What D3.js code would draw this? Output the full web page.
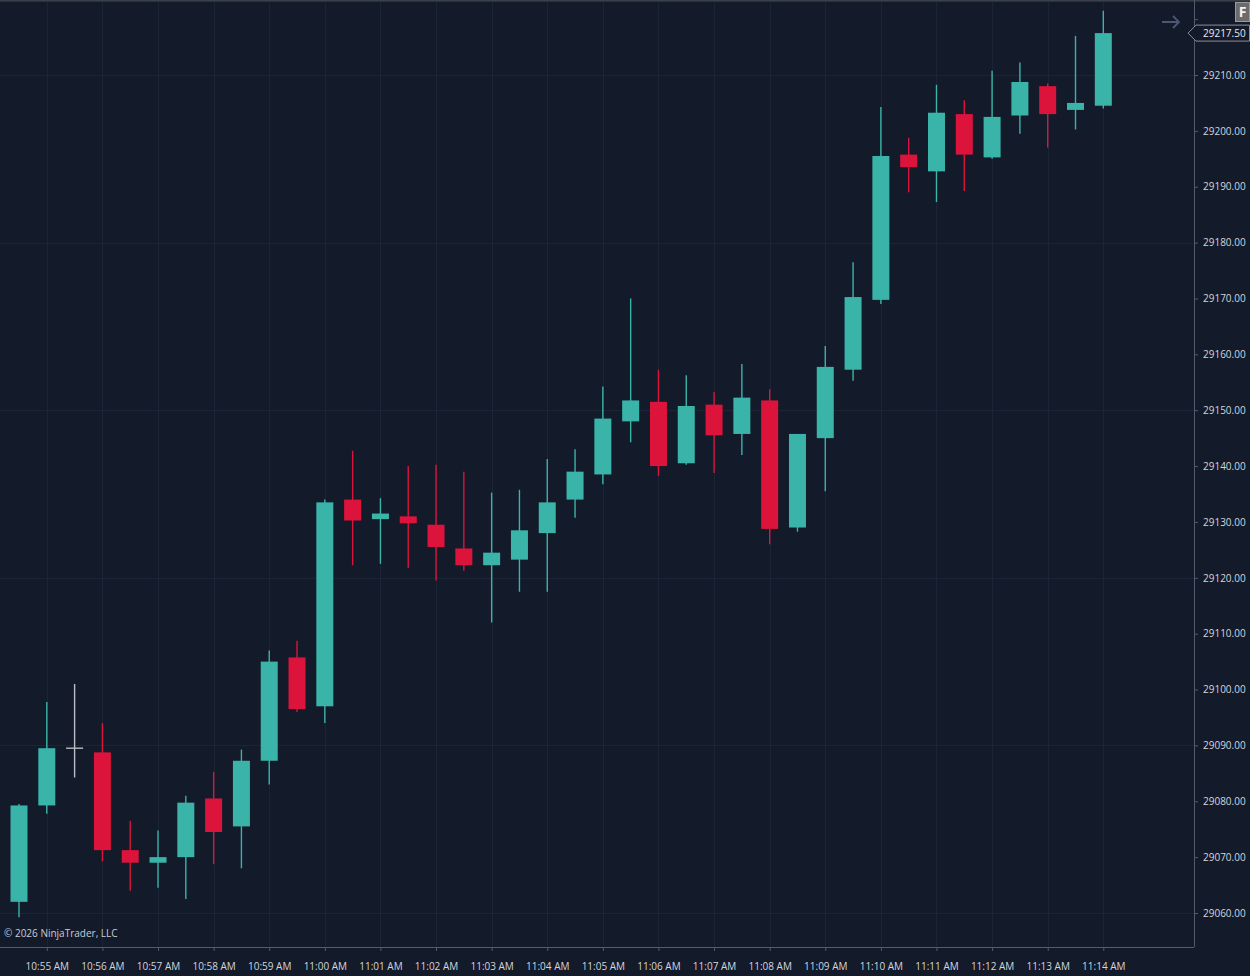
<!DOCTYPE html>
<html>
<head>
<meta charset="utf-8">
<script src="https://cdn.jsdelivr.net/npm/d3@7"></script>
<style>
  html, body { margin: 0; padding: 0; background: #131a2a; }
  svg { display: block; }
  text { font-family: "Open Sans", "Noto Sans", sans-serif; }
</style>
</head>
<body>
<svg id="chart" width="1250" height="976"></svg>
<script>
// ---- Data (30-second bars) ----
const times = ["10:54:30","10:55:00","10:55:30","10:56:00","10:56:30","10:57:00","10:57:30","10:58:00","10:58:30","10:59:00",
               "10:59:30","11:00:00","11:00:30","11:01:00","11:01:30","11:02:00","11:02:30","11:03:00","11:03:30","11:04:00",
               "11:04:30","11:05:00","11:05:30","11:06:00","11:06:30","11:07:00","11:07:30","11:08:00","11:08:30","11:09:00",
               "11:09:30","11:10:00","11:10:30","11:11:00","11:11:30","11:12:00","11:12:30","11:13:00","11:13:30","11:14:00"];
const opens  = [29062.00,29079.25,29089.50,29088.75,29071.25,29069.00,29070.00,29080.50,29075.50,29087.25,
                29105.75,29097.00,29134.00,29130.50,29131.00,29129.50,29125.25,29122.25,29123.25,29128.00,
                29134.00,29138.50,29148.00,29151.50,29140.50,29151.00,29145.75,29151.75,29129.00,29145.00,
                29157.25,29169.75,29195.75,29192.75,29203.00,29195.25,29202.75,29208.00,29203.75,29204.50];
const highs  = [29079.50,29097.75,29101.00,29094.00,29076.50,29074.75,29081.00,29085.25,29089.25,29107.00,
                29108.75,29134.00,29142.75,29134.25,29140.00,29140.25,29139.00,29135.25,29135.75,29141.25,
                29143.00,29154.25,29170.00,29157.25,29156.25,29153.25,29158.25,29153.75,29145.75,29161.50,
                29176.50,29204.25,29198.75,29208.25,29205.50,29210.75,29212.25,29208.50,29217.00,29221.50];
const lows   = [29059.25,29077.75,29084.25,29069.25,29064.00,29064.50,29062.50,29068.75,29068.00,29083.00,
                29096.00,29094.00,29122.25,29122.50,29121.75,29119.50,29121.25,29112.00,29117.50,29117.50,
                29130.75,29136.75,29144.25,29138.25,29140.25,29138.75,29142.00,29126.00,29128.25,29135.50,
                29155.25,29169.00,29189.00,29187.25,29189.25,29195.00,29199.50,29197.00,29200.25,29204.00];
const closes = [29079.25,29089.50,29089.50,29071.25,29069.00,29070.00,29079.75,29074.50,29087.25,29105.00,
                29096.50,29133.50,29130.25,29131.50,29129.75,29125.50,29122.25,29124.50,29128.50,29133.50,
                29139.00,29148.50,29151.75,29140.00,29150.75,29145.50,29152.25,29128.75,29145.75,29157.75,
                29170.25,29195.50,29193.50,29203.25,29195.75,29202.50,29208.75,29203.00,29205.00,29217.50];

const priceTicks = [29060,29070,29080,29090,29100,29110,29120,29130,29140,29150,29160,29170,29180,29190,29200,29210];
const hiddenLabelTicks = [29220];
const priceGrid = [29060,29090,29120,29150,29180,29210];
const timeTicks = ["10:55","10:56","10:57","10:58","10:59","11:00","11:01","11:02","11:03","11:04",
                   "11:05","11:06","11:07","11:08","11:09","11:10","11:11","11:12","11:13","11:14"];
const lastPrice = 29217.50;
const copyright = "© 2026 NinjaTrader, LLC";

// ---- Layout ----
const W = 1250, H = 976;
const plotRight = 1194, plotBottom = 947, plotTop = 2;
const parse = d3.timeParse("%H:%M:%S");
const parseM = d3.timeParse("%H:%M");
const bars = times.map((t, i) => ({ t: parse(t), o: opens[i], h: highs[i], l: lows[i], c: closes[i] }));

const x = d3.scaleTime()
  .domain([bars[0].t, bars[bars.length - 1].t])
  .range([19, 1103.3]);
const y = d3.scaleLinear().domain([29060, 29210]).range([913, 75]);

const C = {
  bg: "#131a2a", grid: "#1b2535", axis: "#525c6d", text: "#d2d6dd",
  up: "#3ab4a9", down: "#dc143c", doji: "#b9bdc5"
};

const svg = d3.select("#chart");
svg.append("rect").attr("width", W).attr("height", H).attr("fill", C.bg);

svg.append("defs").append("clipPath").attr("id", "plotclip")
  .append("rect").attr("x", 0).attr("y", plotTop).attr("width", plotRight).attr("height", plotBottom - plotTop);

// grid
const grid = svg.append("g").attr("clip-path", "url(#plotclip)");
grid.selectAll("line.h").data(priceGrid).join("line")
  .attr("x1", 0).attr("x2", plotRight)
  .attr("y1", d => Math.round(y(d)) + 0.5).attr("y2", d => Math.round(y(d)) + 0.5)
  .attr("stroke", C.grid).attr("stroke-width", 1);
grid.selectAll("line.v").data(timeTicks.map(parseM)).join("line")
  .attr("y1", plotTop).attr("y2", plotBottom)
  .attr("x1", d => Math.round(x(d)) + 0.5).attr("x2", d => Math.round(x(d)) + 0.5)
  .attr("stroke", C.grid).attr("stroke-width", 1);

// candles
const bw = 17;
const cg = svg.append("g").attr("clip-path", "url(#plotclip)");
const colorOf = d => d.c > d.o ? C.up : (d.c < d.o ? C.down : C.doji);
cg.selectAll("line.wick").data(bars).join("line")
  .attr("x1", d => x(d.t)).attr("x2", d => x(d.t))
  .attr("y1", d => y(d.h)).attr("y2", d => y(d.l))
  .attr("stroke", colorOf).attr("stroke-width", 1.4);
cg.selectAll("rect.body").data(bars.filter(d => d.c !== d.o)).join("rect")
  .attr("x", d => x(d.t) - bw / 2)
  .attr("width", bw)
  .attr("y", d => y(Math.max(d.o, d.c)))
  .attr("height", d => Math.max(1.5, Math.abs(y(d.o) - y(d.c))))
  .attr("fill", colorOf);
cg.selectAll("line.doji").data(bars.filter(d => d.c === d.o)).join("line")
  .attr("x1", d => x(d.t) - bw / 2).attr("x2", d => x(d.t) + bw / 2)
  .attr("y1", d => y(d.o)).attr("y2", d => y(d.o))
  .attr("stroke", C.doji).attr("stroke-width", 1.4);

// top border
svg.append("rect").attr("x", 0).attr("y", 0).attr("width", W).attr("height", 1.6).attr("fill", "#3a3f4a");

// right price axis
const yAxis = d3.axisRight(y).tickValues(priceTicks.concat(hiddenLabelTicks))
  .tickSize(4).tickPadding(5)
  .tickFormat(d => hiddenLabelTicks.includes(d) ? "" : d3.format(".2f")(d));
const ya = svg.append("g").attr("transform", `translate(${plotRight},0)`).call(yAxis);
ya.select(".domain").attr("d", `M0.5,${0}V${plotBottom}`).attr("stroke", C.axis);
ya.selectAll(".tick line").attr("stroke", C.axis);
ya.selectAll(".tick text").attr("fill", C.text).attr("font-size", 10)
  .attr("font-family", "'Open Sans', sans-serif");

// bottom time axis
const xAxis = d3.axisBottom(x).tickValues(timeTicks.map(parseM))
  .tickSize(4).tickPadding(12).tickFormat(d3.timeFormat("%-I:%M %p"));
const xa = svg.append("g").attr("transform", `translate(0,${plotBottom})`).call(xAxis);
xa.select(".domain").attr("d", `M0,0.5H${plotRight}`).attr("stroke", C.axis);
xa.selectAll(".tick line").attr("stroke", C.axis);
xa.selectAll(".tick text").attr("fill", C.text).attr("font-size", 10)
  .attr("font-family", "'Open Sans', sans-serif");

// last price marker
const py = y(lastPrice);
svg.append("path")
  .attr("d", `M1188,${py} L1196,${py - 8} L1249.5,${py - 8} L1249.5,${py + 8} L1196,${py + 8} Z`)
  .attr("fill", C.bg).attr("stroke", "#8a909b").attr("stroke-width", 1);
svg.append("text").attr("x", 1203).attr("y", py).attr("dy", "0.35em")
  .attr("fill", "#e8eaee").attr("font-size", 10).text(d3.format(".2f")(lastPrice));

// arrow icon
svg.append("path").attr("d", "M1162,22 H1179 M1173,16 L1179,22 L1173,28")
  .attr("fill", "none").attr("stroke", "#4a5870").attr("stroke-width", 1.8);

// F box
svg.append("rect").attr("x", 1235.5).attr("y", 2.5).attr("width", 14).attr("height", 19)
  .attr("fill", "#6b6b6b").attr("stroke", "#9a9a9a");
svg.append("text").attr("x", 1242.5).attr("y", 17).attr("text-anchor", "middle")
  .attr("fill", "#f2f2f2").attr("font-size", 14).attr("font-weight", "bold").text("F");

// copyright
svg.append("text").attr("x", 4).attr("y", 937).attr("fill", "#c9cdd4").attr("font-size", 10)
  .text(copyright);
</script>
</body>
</html>
